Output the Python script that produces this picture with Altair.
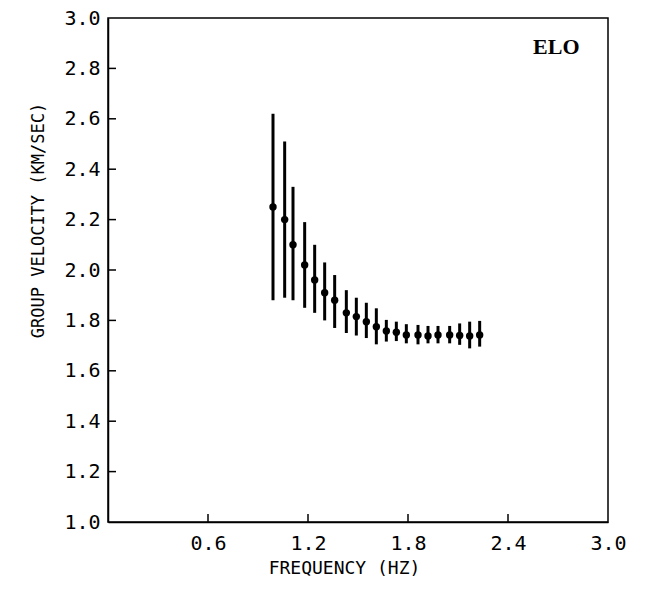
import altair as alt
import pandas as pd

# Data
freq = [0.99, 1.06, 1.11, 1.18, 1.24, 1.30, 1.36, 1.43, 1.49, 1.55, 1.61,
        1.67, 1.73, 1.79, 1.86, 1.92, 1.98, 2.05, 2.11, 2.17, 2.23]
velocity = [2.25, 2.20, 2.10, 2.02, 1.96, 1.91, 1.88, 1.83, 1.815, 1.795, 1.775,
            1.758, 1.753, 1.742, 1.742, 1.738, 1.742, 1.742, 1.740, 1.738, 1.742]
upper = [2.62, 2.51, 2.33, 2.19, 2.10, 2.03, 1.98, 1.92, 1.89, 1.87, 1.848,
         1.802, 1.795, 1.785, 1.782, 1.778, 1.778, 1.778, 1.788, 1.795, 1.798]
lower = [1.88, 1.89, 1.88, 1.85, 1.83, 1.80, 1.77, 1.75, 1.74, 1.73, 1.705,
         1.716, 1.718, 1.709, 1.705, 1.709, 1.709, 1.709, 1.703, 1.689, 1.696]

x_ticks = [0.6, 1.2, 1.8, 2.4, 3.0]
y_ticks = [1.0, 1.2, 1.4, 1.6, 1.8, 2.0, 2.2, 2.4, 2.6, 2.8, 3.0]
x_inner_ticks = [0.6, 1.2, 1.8, 2.4]
y_inner_ticks = [1.2, 1.4, 1.6, 1.8, 2.0, 2.2, 2.4, 2.6, 2.8]

station_label = ["ELO"]
station_x = [2.69]
station_y = [2.885]

df = pd.DataFrame({"f": freq, "v": velocity, "hi": upper, "lo": lower})
xt = pd.DataFrame({"t": x_inner_ticks})
yt = pd.DataFrame({"t": y_inner_ticks})
lab = pd.DataFrame({"label": station_label, "x": station_x, "y": station_y})

MONO = "DejaVu Sans Mono"

xscale = alt.Scale(domain=[0, 3.0], nice=False, zero=False)
yscale = alt.Scale(domain=[1.0, 3.0], nice=False, zero=False)

xaxis = alt.Axis(values=x_ticks, format=".1f", title="FREQUENCY (HZ)",
                 grid=False, ticks=False, labelFont=MONO, labelFontSize=20,
                 labelColor="black", labelPadding=11, titleFont=MONO,
                 titleFontSize=18, titleFontWeight="normal", titleColor="black",
                 titleX=236, titleY=46, titleBaseline="middle",
                 domainColor="black", domainWidth=1.5, labelFlush=False)
yaxis = alt.Axis(values=y_ticks, format=".1f", title="GROUP VELOCITY  (KM/SEC)",
                 grid=False, ticks=False, labelFont=MONO, labelFontSize=20,
                 labelColor="black", labelPadding=8, titleFont=MONO,
                 titleFontSize=17, titleFontWeight="normal", titleColor="black",
                 titleY=202, titleX=-70, titleBaseline="middle",
                 domainColor="black", domainWidth=1.5, labelFlush=False)

bars = alt.Chart(df).mark_rule(color="black", strokeWidth=3).encode(
    x=alt.X("f:Q", scale=xscale, axis=xaxis),
    y=alt.Y("lo:Q", scale=yscale, axis=yaxis),
    y2="hi:Q",
)
dots = alt.Chart(df).mark_circle(color="black", opacity=1, size=55).encode(
    x=alt.X("f:Q", scale=xscale),
    y=alt.Y("v:Q", scale=yscale),
)
xtick_marks = alt.Chart(xt).mark_rule(color="black", strokeWidth=1.5).encode(
    x=alt.X("t:Q", scale=xscale),
    y=alt.value(504), y2=alt.value(496),
)
ytick_marks = alt.Chart(yt).mark_rule(color="black", strokeWidth=1.5).encode(
    y=alt.Y("t:Q", scale=yscale),
    x=alt.value(0), x2=alt.value(8),
)
text = alt.Chart(lab).mark_text(font="Liberation Serif", fontSize=22,
                                fontWeight="bold", color="black").encode(
    x=alt.X("x:Q", scale=xscale),
    y=alt.Y("y:Q", scale=yscale),
    text="label:N",
)

chart = alt.layer(bars, dots, xtick_marks, ytick_marks, text).properties(
    width=500, height=504,
    autosize=alt.AutoSizeParams(type="none"),
    padding={"left": 108, "top": 18, "right": 43, "bottom": 83},
    background="white",
).configure_view(stroke="black", strokeWidth=1.5)

chart.save("out.html", embed_options={"renderer": "svg", "actions": False})
